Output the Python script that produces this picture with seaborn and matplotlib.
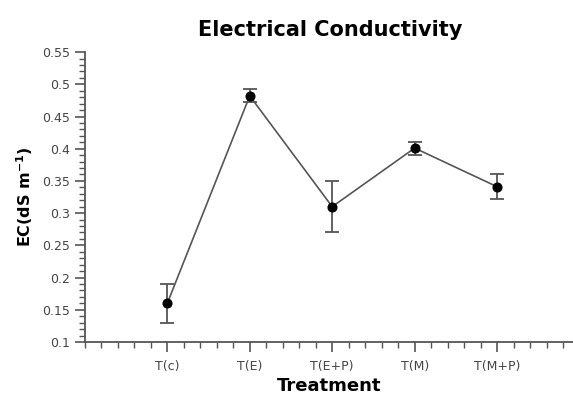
import numpy as np
import pandas as pd
import matplotlib
matplotlib.use("Agg")
import matplotlib.pyplot as plt
import seaborn as sns
from matplotlib.ticker import MultipleLocator, FuncFormatter

# values
treatments = ["T(c)", "T(E)", "T(E+P)", "T(M)", "T(M+P)"]
ec_mean = [0.16, 0.482, 0.31, 0.401, 0.341]
ec_err = [0.03, 0.010, 0.04, 0.010, 0.019]

df = pd.DataFrame({"pos": np.arange(1, len(treatments) + 1),
                   "EC": ec_mean, "err": ec_err})

sns.set_style("ticks")
plt.rcParams["font.family"] = ["DejaVu Sans"]

fig = plt.figure(figsize=(5.73, 3.97), dpi=100)
ax = fig.add_axes([0.148, 0.1385, 0.852, 0.7305])

grey = "#555555"
ax.errorbar(df["pos"], df["EC"], yerr=df["err"], fmt="none",
            ecolor=grey, elinewidth=1.3, capsize=5, capthick=1.3, zorder=2)
sns.lineplot(data=df, x="pos", y="EC", ax=ax, color=grey, linewidth=1.2,
             marker="o", markersize=6.5, markerfacecolor="black",
             markeredgecolor="black", zorder=3)

ax.set_xlim(0, 5.92)
ax.set_ylim(0.1, 0.5501)
ax.set_xticks(df["pos"])
ax.set_xticklabels(treatments)
ax.xaxis.set_minor_locator(MultipleLocator(0.2))
ax.yaxis.set_major_locator(MultipleLocator(0.05))
ax.yaxis.set_minor_locator(MultipleLocator(0.01))
ax.yaxis.set_major_formatter(FuncFormatter(lambda v, p: f"{v:.2f}".rstrip("0")))

sns.despine(ax=ax)
for s in ["left", "bottom"]:
    ax.spines[s].set_color(grey)
    ax.spines[s].set_linewidth(1.3)
ax.tick_params(which="major", length=7, width=1.2, color=grey,
               labelsize=9, labelcolor="#444444")
ax.tick_params(axis="x", which="major", pad=6)
ax.tick_params(which="minor", length=4, width=1.0, color=grey)

ax.set_xlabel("Treatment", fontsize=13, fontweight="bold", labelpad=3,
              color="black")
ax.set_ylabel("EC(dS m$^{\\mathbf{-1}}$)", fontsize=11.5, fontweight="bold",
              labelpad=5, color="black")
fig.text(0.576, 0.925, "Electrical Conductivity", fontsize=15,
         fontweight="bold", ha="center", va="center", color="black")

fig.savefig("out.png", dpi=100)
